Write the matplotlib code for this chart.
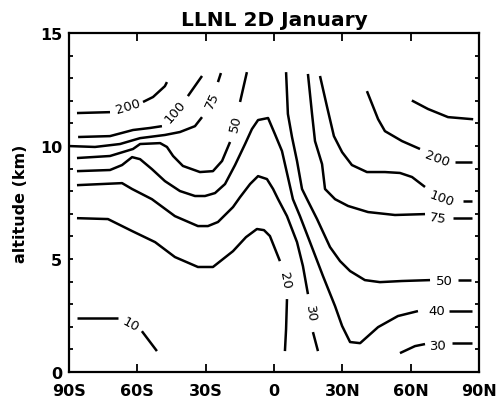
import numpy as np
import matplotlib.pyplot as plt

# contour lines: (latitude deg, south < 0, altitude km)
# the point at the label index is where the number sits, the line is broken there
c200_s = [(-86.5, 11.46), (-72.0, 11.50), (-64.1, 11.77), (-57.5, 11.95),
          (-53.1, 12.17), (-47.9, 12.65), (-47.0, 12.83)]
c100_s = [(-86.0, 10.40), (-72.0, 10.44), (-61.9, 10.71), (-54.4, 10.80),
          (-49.2, 10.88), (-43.5, 11.55), (-37.8, 12.21), (-31.6, 13.10)]
c75_s = [(-90.0, 10.00), (-78.6, 9.96), (-67.6, 10.09), (-58.8, 10.35),
         (-47.9, 10.49), (-41.3, 10.62), (-34.7, 10.88), (-31.6, 11.28),
         (-27.2, 12.04), (-24.6, 12.83), (-23.3, 13.23)]
c50_s = [(-86.5, 9.47), (-72.0, 9.56), (-61.9, 9.87), (-58.8, 10.09),
         (-50.0, 10.13), (-47.0, 9.96), (-44.3, 9.56), (-40.0, 9.12),
         (-32.5, 8.85), (-26.8, 8.89), (-22.8, 9.34), (-19.3, 10.18),
         (-16.7, 11.02), (-14.9, 11.95), (-11.9, 13.27)]
c40 = [(-86.5, 8.89), (-72.0, 8.94), (-66.7, 9.16), (-62.3, 9.51),
       (-58.8, 9.42), (-53.6, 8.98), (-47.9, 8.45), (-41.3, 8.01),
       (-34.7, 7.79), (-30.3, 7.79), (-25.9, 7.92), (-21.5, 8.32),
       (-17.1, 9.16), (-12.7, 10.09), (-9.7, 10.75), (-7.0, 11.15),
       (-2.6, 11.24), (0.4, 10.53), (3.5, 9.78), (6.1, 8.63), (8.3, 7.65),
       (11.4, 6.90), (15.8, 5.75), (21.5, 4.25), (26.8, 2.92), (29.9, 2.04),
       (33.4, 1.33), (37.8, 1.28), (45.7, 1.99), (54.4, 2.48), (63.2, 2.70),
       (71.6, 2.74), (76.8, 2.70), (83.0, 2.70), (86.9, 2.70)]
c30_s = [(-86.5, 8.27), (-66.7, 8.36), (-62.3, 8.10), (-53.6, 7.65),
         (-43.5, 6.90), (-33.4, 6.46), (-29.0, 6.46), (-24.6, 6.64),
         (-18.0, 7.30), (-14.9, 7.74), (-10.5, 8.32), (-7.0, 8.67),
         (-3.1, 8.54), (-0.4, 8.10), (1.8, 7.65), (5.7, 6.90), (10.1, 5.75),
         (12.7, 4.69), (14.9, 3.45), (16.2, 2.61), (17.1, 1.77), (19.3, 0.93)]
c20 = [(-86.5, 6.81), (-72.9, 6.77), (-62.3, 6.24), (-52.2, 5.75),
       (-43.5, 5.09), (-33.4, 4.65), (-26.8, 4.65), (-18.0, 5.35),
       (-12.3, 5.97), (-7.5, 6.33), (-4.4, 6.28), (-1.8, 6.02), (2.6, 4.91),
       (4.8, 4.07), (5.7, 3.23), (5.3, 1.90), (4.8, 0.93)]
c10 = [(-86.5, 2.39), (-68.5, 2.39), (-62.8, 2.15), (-58.0, 1.81), (-51.4, 0.93)]
c50_n = [(5.3, 13.27), (6.1, 11.42), (7.9, 10.40), (10.1, 9.34), (12.3, 8.10),
         (14.5, 7.65), (18.9, 6.77), (24.6, 5.53), (29.0, 4.91), (33.4, 4.47),
         (39.9, 4.07), (46.5, 3.98), (56.2, 4.03), (68.5, 4.07), (74.6, 4.07),
         (80.8, 4.07), (86.5, 4.07)]
c75_n = [(14.9, 13.19), (16.7, 11.42), (18.0, 10.22), (21.1, 9.20),
         (22.4, 8.10), (26.8, 7.65), (32.5, 7.35), (41.3, 7.08), (53.1, 6.95),
         (66.3, 6.99), (72.0, 6.81), (78.6, 6.81), (86.9, 6.81)]
c100_n = [(20.2, 13.10), (23.3, 11.73), (26.3, 10.44), (29.9, 9.73),
          (34.2, 9.16), (40.8, 8.85), (48.7, 8.85), (55.3, 8.81), (60.6, 8.63),
          (66.3, 8.19), (73.8, 7.70), (83.0, 7.57), (86.9, 7.57)]
c200_n = [(40.8, 12.43), (45.7, 11.19), (48.7, 10.66), (56.2, 10.22),
          (64.1, 9.87), (71.6, 9.47), (79.5, 9.29), (86.9, 9.29)]
c_top_n = [(61.0, 11.99), (67.6, 11.64), (76.4, 11.28), (86.9, 11.19)]
c30_n = [(55.3, 0.84), (61.9, 1.15), (66.3, 1.24), (72.0, 1.19), (78.1, 1.28),
         (86.9, 1.28)]

# (label text, points, index of the label point)
contours = [
    ("200", c200_s, 2), ("100", c100_s, 5), ("75", c75_s, 8),
    ("50", c50_s, 12), ("40", c40, 31), ("30", c30_s, 19),
    ("20", c20, 13), ("10", c10, 2), ("50", c50_n, 14),
    ("75", c75_n, 10), ("100", c100_n, 10), ("200", c200_n, 5),
    ("", c_top_n, None), ("30", c30_n, 3),
]

lat_ticks = [-90, -60, -30, 0, 30, 60, 90]
lat_labels = ['90S', '60S', '30S', '0', '30N', '60N', '90N']
alt_ticks = [0, 5, 10, 15]

fig = plt.figure(figsize=(5, 4.1), dpi=100)
ax = fig.add_axes([0.138, 0.090, 0.820, 0.827])
ax.set_xlim(-90, 90)
ax.set_ylim(0, 15)

lw = 1.8
for text, pts, k in contours:
    lat = np.array([p[0] for p in pts])
    alt = np.array([p[1] for p in pts])
    if k is None:
        ax.plot(lat, alt, color='k', lw=lw, solid_joinstyle='round')
        continue
    ax.plot(lat[:k], alt[:k], color='k', lw=lw, solid_capstyle='butt',
            solid_joinstyle='round')
    ax.plot(lat[k + 1:], alt[k + 1:], color='k', lw=lw, solid_capstyle='butt',
            solid_joinstyle='round')
    # label follows the direction of the line across the gap
    p0 = ax.transData.transform((lat[k - 1], alt[k - 1]))
    p1 = ax.transData.transform((lat[k + 1], alt[k + 1]))
    ang = np.degrees(np.arctan2(p1[1] - p0[1], p1[0] - p0[0]))
    if ang > 90:
        ang -= 180
    elif ang < -90:
        ang += 180
    ax.text(lat[k], alt[k], text, rotation=ang, rotation_mode='anchor',
            ha='center', va='center', fontsize=9.5)

ax.set_xticks(lat_ticks)
ax.set_xticklabels(lat_labels, fontweight='bold')
ax.set_yticks(alt_ticks)
ax.set_yticklabels([str(v) for v in alt_ticks], fontweight='bold')
ax.set_yticks(range(16), minor=True)
ax.tick_params(axis='x', which='major', direction='in', length=6, width=1.3,
               top=True, labelsize=11.5, pad=8)
ax.tick_params(axis='y', which='both', direction='in', length=3, width=1.3,
               right=True, labelsize=11.5, pad=5)
for s in ax.spines.values():
    s.set_linewidth(1.6)

ax.set_title('LLNL 2D January', fontsize=14.5, fontweight='bold', pad=6)
ax.set_ylabel('altitude (km)', fontsize=11.5, fontweight='bold')
ax.yaxis.set_label_coords(-0.10, 0.5)

fig.savefig('out.png', dpi=100)
